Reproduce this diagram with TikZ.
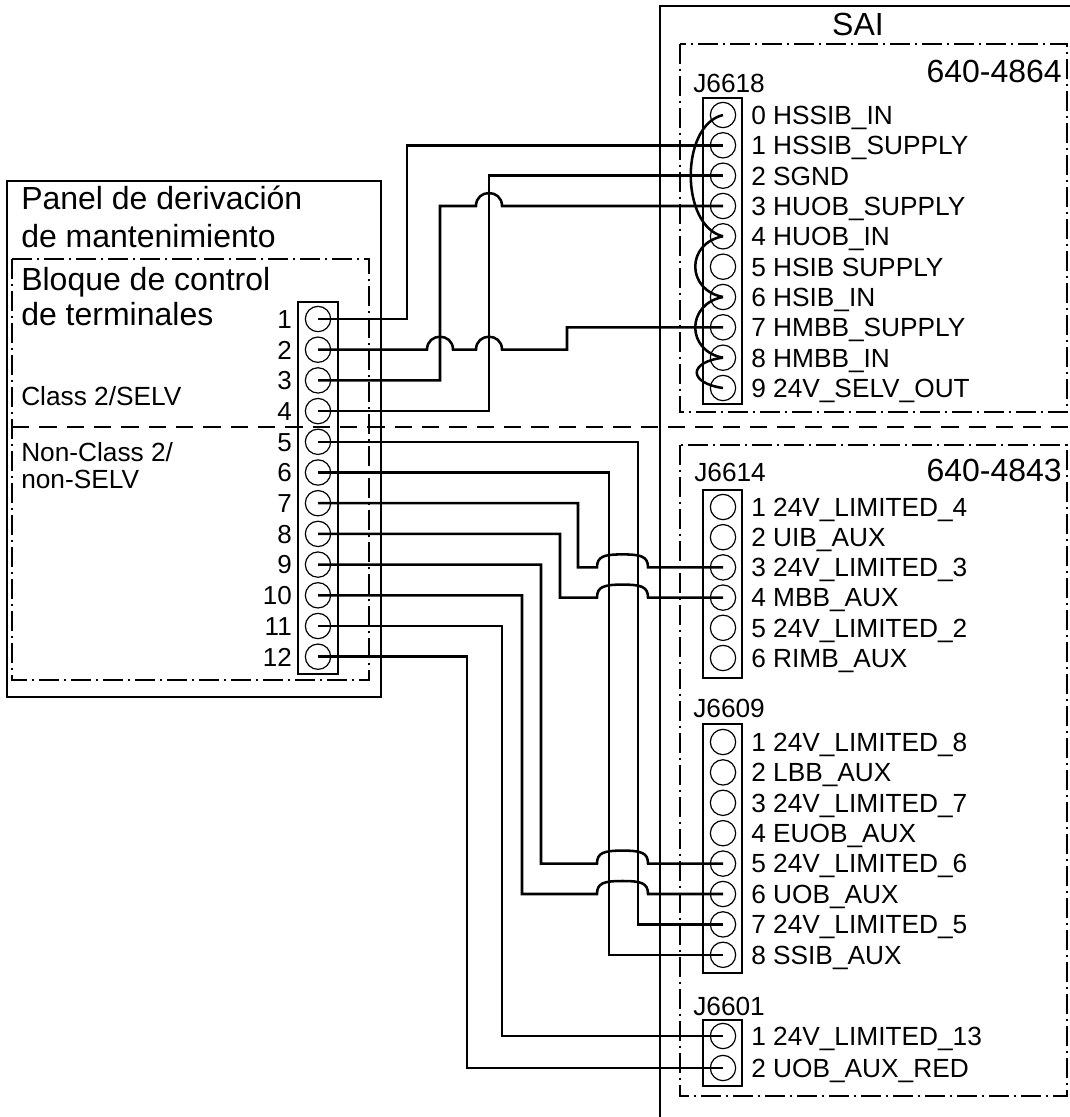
\documentclass[tikz,border=0pt]{standalone}
\usepackage{fontspec}
\setmainfont{Liberation Sans}
\begin{document}
\begin{tikzpicture}[x=0.75pt,y=-0.75pt,
  box/.style={line width=1pt},
  dbox/.style={line width=1pt, dash pattern=on 15pt off 3.5pt on 2pt off 3.5pt},
  divider/.style={line width=1pt, dash pattern=on 13pt off 7.5pt},
  wire/.style={line width=1.9pt, line join=miter},
  jump/.style={line width=1.9pt},
  pin/.style={circle, draw, line width=0.9pt, minimum size=19pt, inner sep=0pt},
  title/.style={font=\fontsize{24pt}{29pt}\selectfont, inner sep=0pt, anchor=base west},
  lab/.style={font=\fontsize{19.7pt}{23pt}\selectfont, inner sep=0pt, anchor=base west},
  num/.style={font=\fontsize{19.5pt}{23pt}\selectfont, inner sep=0pt, anchor=base east}
]
\useasboundingbox (0,0) rectangle (1070,1117);
\clip (0,0) rectangle (1070,1117);
\fill[white] (0,0) rectangle (1070,1117);

% ---------- left panel ----------
\draw[box] (7,181) rectangle (381,697);
\draw[dbox] (12,259) rectangle (369,680);
\draw[divider] (12,427) -- (1075,427);
\node[title] (t1) at (21,209) {Panel de derivación};
\node[title] (t2) at (21,247) {de mantenimiento};
\node[title] (t3) at (21,290) {Bloque de control};
\node[title] (t4) at (21,325) {de terminales};
\node[lab] (t5) at (21,405) {Class 2/SELV};
\node[lab] (t6) at (21,461) {Non-Class 2/};
\node[lab] (t7) at (21,488) {non-SELV};

\draw[box] (298,302) rectangle (338,674);
\foreach \i/\y in {1/319,2/349.7,3/380.4,4/411.1,5/441.8,6/472.5,7/503.2,8/533.9,9/564.6,10/595.3,11/626,12/656.7}{
  \node[pin] (L\i) at (318,\y) {};
  \node[num] (n\i) at (292,\y+9.3) {\i};
}

% ---------- SAI ----------
\draw[box] (660,6) rectangle (1090,1140);
\node[title, anchor=base] (sai) at (858,36) {SAI};

\draw[dbox] (680,44) rectangle (1067,412);
\node[title, anchor=base east] (m1) at (1062,82) {640-4864};
\node[lab] (j1) at (693,92) {J6618};
\draw[box] (703,98) rectangle (742,404);
\foreach \i/\y/\t in {0/115/HSSIB\_IN,1/145.3/HSSIB\_SUPPLY,2/175.7/SGND,3/206/HUOB\_SUPPLY,4/236.3/HUOB\_IN,5/266.7/HSIB SUPPLY,6/297/HSIB\_IN,7/327.3/HMBB\_SUPPLY,8/357.7/HMBB\_IN,9/388/24V\_SELV\_OUT}{
  \node[pin] (A\i) at (723,\y) {};
  \node[lab] (a\i) at (751,\y+9.3) {\i\ \t};
}

\draw[dbox] (680,445) rectangle (1067,1096);
\node[title, anchor=base east] (m2) at (1062,481) {640-4843};
\node[lab] (j2) at (694,481) {J6614};
\draw[box] (703,490) rectangle (742,678);
\foreach \i/\y/\t in {1/507/24V\_LIMITED\_4,2/537.2/UIB\_AUX,3/567.4/24V\_LIMITED\_3,4/597.6/MBB\_AUX,5/627.8/24V\_LIMITED\_2,6/658/RIMB\_AUX}{
  \node[pin] (B\i) at (723,\y) {};
  \node[lab] (b\i) at (751,\y+9.3) {\i\ \t};
}

\node[lab] (j3) at (693,717) {J6609};
\draw[box] (703,724) rectangle (742,973);
\foreach \i/\y/\t in {1/742/24V\_LIMITED\_8,2/772.4/LBB\_AUX,3/802.8/24V\_LIMITED\_7,4/833.2/EUOB\_AUX,5/863.6/24V\_LIMITED\_6,6/894/UOB\_AUX,7/924.4/24V\_LIMITED\_5,8/954.8/SSIB\_AUX}{
  \node[pin] (C\i) at (723,\y) {};
  \node[lab] (c\i) at (751,\y+9.3) {\i\ \t};
}

\node[lab] (j4) at (693,1015) {J6601};
\draw[box] (703,1020) rectangle (742,1086);
\foreach \i/\y/\t in {1/1036/24V\_LIMITED\_13,2/1068/UOB\_AUX\_RED}{
  \node[pin] (D\i) at (723,\y) {};
  \node[lab] (d\i) at (751,\y+9.3) {\i\ \t};
}

% ---------- jumpers on J6618 ----------
\draw[jump] (A0.center) .. controls (680,125) and (680,226) .. (A4.center);
\draw[jump] (A4.center) .. controls (686,243) and (686,290) .. (A6.center);
\draw[jump] (A6.center) .. controls (686,304) and (686,351) .. (A8.center);
\draw[jump] (A8.center) .. controls (688,362) and (688,383) .. (A9.center);

% ---------- upper wires ----------
\draw[wire] (L1.center) -- (407,319) -- (407,145.3) -- (A1.center);
\draw[wire] (L2.center) -- (427,349.7) .. controls (427,332.4) and (453,332.4) .. (453,349.7)
  -- (476,349.7) .. controls (476,332.4) and (502,332.4) .. (502,349.7)
  -- (567,349.7) -- (567,327.3) -- (A7.center);
\draw[wire] (L3.center) -- (440,380.4) -- (440,206) -- (476,206)
  .. controls (476,188.7) and (502,188.7) .. (502,206) -- (A3.center);
\draw[wire] (L4.center) -- (489,411.1) -- (489,175.7) -- (A2.center);

% ---------- lower wires ----------
\draw[wire] (L5.center) -- (638,441.8) -- (638,924.4) -- (C7.center);
\draw[wire] (L6.center) -- (609,472.5) -- (609,954.8) -- (C8.center);
\draw[wire] (L7.center) -- (578,503.2) -- (578,567.4) -- (597,567.4)
  .. controls (597,556.4) and (604,554.4) .. (622.5,554.4)
  .. controls (641,554.4) and (648,556.4) .. (648,567.4) -- (B3.center);
\draw[wire] (L8.center) -- (560,533.9) -- (560,597.6) -- (597,597.6)
  .. controls (597,586.6) and (604,584.6) .. (622.5,584.6)
  .. controls (641,584.6) and (648,586.6) .. (648,597.6) -- (B4.center);
\draw[wire] (L9.center) -- (541,564.6) -- (541,863.6) -- (597,863.6)
  .. controls (597,852.6) and (604,850.6) .. (622.5,850.6)
  .. controls (641,850.6) and (648,852.6) .. (648,863.6) -- (C5.center);
\draw[wire] (L10.center) -- (522,595.3) -- (522,894) -- (597,894)
  .. controls (597,883) and (604,881) .. (622.5,881)
  .. controls (641,881) and (648,883) .. (648,894) -- (C6.center);
\draw[wire] (L11.center) -- (502,626) -- (502,1036) -- (D1.center);
\draw[wire] (L12.center) -- (467,656.7) -- (467,1068) -- (D2.center);
\end{tikzpicture}
\end{document}
